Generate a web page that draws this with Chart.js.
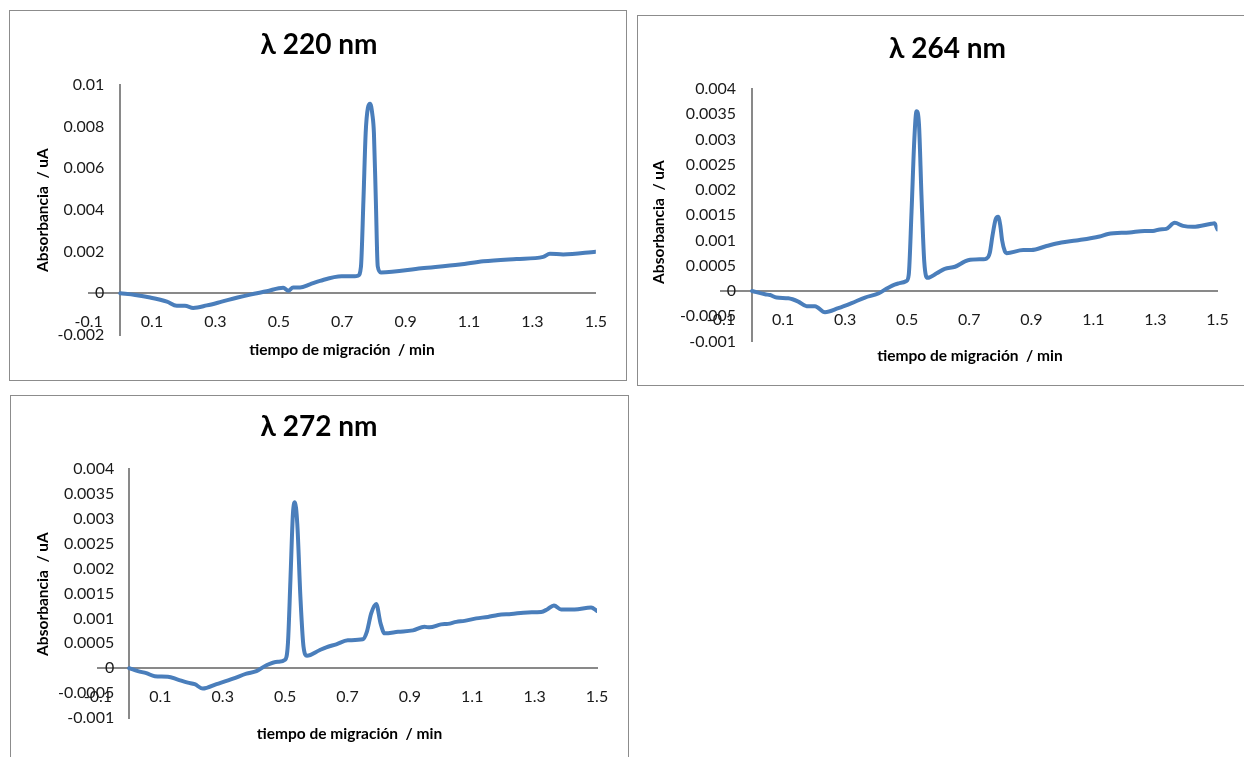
<!DOCTYPE html>
<html>
<head>
<meta charset="utf-8">
<script src="https://cdn.jsdelivr.net/npm/chart.js@4.4.1/dist/chart.umd.min.js"></script>
<style>
  html, body { margin: 0; padding: 0; background: #fff; width: 1244px; height: 757px; overflow: hidden; }
  .panel { position: absolute; border: 1px solid #8c8c8c; box-sizing: content-box; background: #fff; }
  .panel canvas { display: block; }
</style>
</head>
<body>
<div class="panel" style="left:9px; top:10px; width:616px; height:369px;"><canvas id="c220" width="616" height="369"></canvas></div>
<div class="panel" style="left:637px; top:15px; width:618px; height:369px;"><canvas id="c264" width="618" height="369"></canvas></div>
<div class="panel" style="left:10px; top:395px; width:617px; height:380px;"><canvas id="c272" width="617" height="380"></canvas></div>

<script>
// Migration-time axis (min)
const xTickValues = [-0.1, 0.1, 0.3, 0.5, 0.7, 0.9, 1.1, 1.3, 1.5];
const xTickLabels = ['-0.1', '0.1', '0.3', '0.5', '0.7', '0.9', '1.1', '1.3', '1.5'];

// Absorbance axes
const yTicks220 = [-0.002, 0, 0.002, 0.004, 0.006, 0.008, 0.01];
const yLabels220 = ['-0.002', '0', '0.002', '0.004', '0.006', '0.008', '0.01'];
const yTicksUV = [-0.001, -0.0005, 0, 0.0005, 0.001, 0.0015, 0.002, 0.0025, 0.003, 0.0035, 0.004];
const yLabelsUV = ['-0.001', '-0.0005', '0', '0.0005', '0.001', '0.0015', '0.002', '0.0025', '0.003', '0.0035', '0.004'];

// Electropherogram at 220 nm
const time220 = [0, 0.047, 0.094, 0.147, 0.178, 0.204, 0.23, 0.273, 0.32, 0.37, 0.41, 0.462, 0.514, 0.53, 0.545, 0.567, 0.598, 0.63, 0.698, 0.74, 0.75, 0.759, 0.767, 0.774, 0.781, 0.788, 0.795, 0.8, 0.806, 0.812, 0.822, 0.95, 1.071, 1.145, 1.25, 1.334, 1.355, 1.397, 1.5];
const abs220 = [0, -0.00008, -0.0002, -0.0004, -0.0006, -0.0006, -0.0007, -0.00058, -0.0004, -0.0002, -0.00006, 0.0001, 0.00027, 0.00012, 0.00028, 0.00028, 0.00043, 0.0006, 0.00082, 0.00082, 0.00085, 0.00126, 0.0045, 0.0077, 0.0089, 0.0091, 0.0086, 0.0077, 0.0045, 0.0013, 0.001, 0.0012, 0.00138, 0.00154, 0.00165, 0.00175, 0.0019, 0.00187, 0.002];

// Electropherogram at 264 nm
const time264 = [0, 0.042, 0.058, 0.079, 0.117, 0.149, 0.176, 0.203, 0.235, 0.278, 0.321, 0.364, 0.407, 0.439, 0.471, 0.498, 0.505, 0.514, 0.523, 0.53, 0.538, 0.546, 0.555, 0.566, 0.595, 0.621, 0.654, 0.696, 0.745, 0.755, 0.766, 0.775, 0.785, 0.793, 0.8, 0.806, 0.815, 0.82, 0.874, 0.9, 0.949, 0.997, 1.045, 1.12, 1.147, 1.217, 1.265, 1.292, 1.314, 1.335, 1.362, 1.389, 1.421, 1.48, 1.49, 1.5];
const abs264 = [0, -0.000066, -0.00008, -0.00013, -0.000145, -0.00021, -0.0003, -0.0003, -0.00042, -0.00034, -0.00024, -0.00013, -0.00005, 0.000066, 0.00015, 0.0002, 0.00032, 0.00157, 0.003, 0.00356, 0.0033, 0.0019, 0.00058, 0.00026, 0.00035, 0.00044, 0.00048, 0.00061, 0.00063, 0.00064, 0.00075, 0.0011, 0.00142, 0.00147, 0.0013, 0.001, 0.00078, 0.00075, 0.00081, 0.00081, 0.00089, 0.00096, 0.001, 0.00108, 0.00113, 0.00116, 0.00119, 0.00119, 0.00122, 0.00123, 0.00135, 0.00129, 0.00127, 0.00133, 0.00134, 0.00122];

// Electropherogram at 272 nm
const time272 = [0, 0.028, 0.055, 0.082, 0.124, 0.156, 0.188, 0.21, 0.236, 0.28, 0.333, 0.376, 0.408, 0.44, 0.477, 0.5, 0.509, 0.517, 0.525, 0.531, 0.539, 0.549, 0.559, 0.57, 0.61, 0.632, 0.664, 0.701, 0.749, 0.762, 0.776, 0.792, 0.806, 0.819, 0.862, 0.91, 0.947, 0.963, 1.0, 1.022, 1.049, 1.075, 1.113, 1.15, 1.182, 1.225, 1.278, 1.321, 1.34, 1.362, 1.385, 1.428, 1.481, 1.5];
const abs272 = [0, -0.00006, -0.0001, -0.00016, -0.00017, -0.00023, -0.00029, -0.00032, -0.00041, -0.00032, -0.00021, -0.00011, -0.00006, 0.00006, 0.00013, 0.00017, 0.0005, 0.00177, 0.0031, 0.00333, 0.0029, 0.00143, 0.00043, 0.00025, 0.00036, 0.00042, 0.00048, 0.00056, 0.00058, 0.00073, 0.0011, 0.00129, 0.0009, 0.0007, 0.00073, 0.00076, 0.00083, 0.00082, 0.00088, 0.00089, 0.00093, 0.00095, 0.001, 0.00103, 0.00107, 0.00109, 0.00112, 0.00113, 0.00118, 0.00126, 0.00118, 0.00118, 0.00122, 0.00115];

const chartTitles = ['\u03BB 220 nm', '\u03BB 264 nm', '\u03BB 272 nm'];
const xAxisTitle = 'tiempo de migraci\u00F3n  / min';
const yAxisTitle = 'Absorbancia  / uA';

const FONT = 'Lato, "Open Sans", sans-serif';
const TICK_SIZE = 16;
const LINE_BLUE = '#4A7EBB';
const AXIS_GREY = '#898989';
const TICK_COLOR = '#1a1a1a';

// Panel heading, axis titles and the value labels of the vertical axis
// (that axis crosses at t = 0, so its labels sit a fixed gap to its left)
const panelText = {
  id: 'panelText',
  beforeDatasetsDraw(chart, args, o) {
    const ctx = chart.ctx;
    const ys = chart.scales.y;
    const axisX = chart.scales.x.getPixelForValue(0);
    ctx.save();
    ctx.fillStyle = TICK_COLOR;
    ctx.font = TICK_SIZE + 'px ' + FONT;
    ctx.textAlign = 'right';
    ctx.textBaseline = 'middle';
    ys.ticks.forEach((t, i) => {
      ctx.fillText(o.yLabels[i], axisX - o.yGap, ys.getPixelForValue(t.value));
    });
    ctx.restore();
  },
  afterDraw(chart, args, o) {
    const ctx = chart.ctx;
    ctx.save();
    ctx.fillStyle = '#000';
    ctx.textAlign = 'center';
    ctx.textBaseline = 'middle';
    ctx.font = 'bold 28px ' + FONT;
    ctx.fillText(o.title, o.titleX, o.titleY);
    ctx.font = 'bold 15.5px ' + FONT;
    ctx.fillText(o.xTitle, o.xTitleX, o.xTitleY);
    ctx.translate(o.yTitleX, o.yTitleY);
    ctx.rotate(-Math.PI / 2);
    ctx.fillText(o.yTitle, 0, 0);
    ctx.restore();
  }
};

function makeChart(id, times, values, yTicks, yLabels, pad, text) {
  const points = times.map((t, i) => ({ x: t, y: values[i] }));
  text.yLabels = yLabels;
  return new Chart(document.getElementById(id), {
    type: 'line',
    data: {
      datasets: [{
        data: points,
        borderColor: LINE_BLUE,
        borderWidth: 4,
        pointRadius: 0,
        fill: false,
        cubicInterpolationMode: 'monotone',
        borderCapStyle: 'round',
        borderJoinStyle: 'round'
      }]
    },
    options: {
      responsive: false,
      animation: false,
      devicePixelRatio: 1,
      layout: { padding: pad },
      plugins: {
        legend: { display: false },
        tooltip: { enabled: false },
        title: { display: false },
        panelText: text
      },
      scales: {
        x: {
          type: 'linear',
          axis: 'x',
          position: { y: 0 },
          min: xTickValues[0],
          max: xTickValues[xTickValues.length - 1],
          grid: { display: false, drawTicks: false },
          border: { display: true, color: AXIS_GREY, width: 2 },
          afterBuildTicks: s => { s.ticks = xTickValues.map(v => ({ value: v })); },
          ticks: {
            autoSkip: false, maxRotation: 0, minRotation: 0, padding: 19,
            color: TICK_COLOR, font: { family: FONT, size: TICK_SIZE },
            callback: (v, i) => xTickLabels[i]
          }
        },
        y: {
          type: 'linear',
          axis: 'y',
          position: { x: 0 },
          min: yTicks[0],
          max: yTicks[yTicks.length - 1],
          grid: { display: false, drawTicks: false },
          border: { display: true, color: AXIS_GREY, width: 2 },
          afterBuildTicks: s => { s.ticks = yTicks.map(v => ({ value: v })); },
          ticks: { display: false, autoSkip: false }
        }
      }
    },
    plugins: [panelText]
  });
}

makeChart('c220', time220, abs220, yTicks220, yLabels220,
  { left: 78.6, right: 30, top: 74, bottom: 45 },
  { title: chartTitles[0], titleX: 309, titleY: 34, xTitle: xAxisTitle, xTitleX: 332, xTitleY: 339, yTitle: yAxisTitle, yTitleX: 33, yTitleY: 199, yGap: 16 });

makeChart('c264', time264, abs264, yTicksUV, yLabelsUV,
  { left: 83, right: 38.5, top: 73, bottom: 43.5 },
  { title: chartTitles[1], titleX: 309.5, titleY: 33, xTitle: xAxisTitle, xTitleX: 332, xTitleY: 340, yTitle: yAxisTitle, yTitleX: 21, yTitleY: 206, yGap: 16 });

makeChart('c272', time272, abs272, yTicksUV, yLabelsUV,
  { left: 87, right: 31, top: 73, bottom: 58 },
  { title: chartTitles[2], titleX: 308, titleY: 31, xTitle: xAxisTitle, xTitleX: 338.5, xTitleY: 338, yTitle: yAxisTitle, yTitleX: 32, yTitleY: 198, yGap: 15 });
</script>
</body>
</html>
